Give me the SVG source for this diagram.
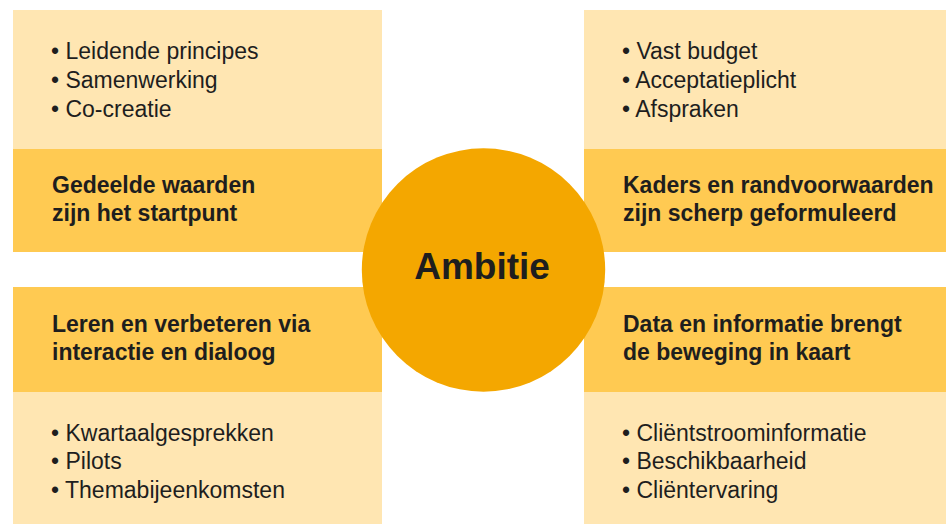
<svg xmlns="http://www.w3.org/2000/svg" width="946" height="524" viewBox="0 0 946 524">
  <style>
    .light { fill: #FFE6B2; }
    .dark { fill: #FFCA52; }
    .hub { fill: #F4A700; }
    text { font-family: "Liberation Sans", Arial, sans-serif; fill: #1e1e1e; }
    .item { font-size: 23px; }
    .title { font-size: 23px; font-weight: bold; }
    .hub-label { font-size: 37px; font-weight: bold; }
  </style>
  <rect width="946" height="524" fill="#ffffff"/>

  <!-- top left quadrant -->
  <g id="waarden">
    <rect class="light" x="13" y="10" width="369" height="139"/>
    <rect class="dark" x="13" y="149" width="369" height="103"/>
    <text class="item" x="51" y="59">• Leidende principes</text>
    <text class="item" x="51" y="88">• Samenwerking</text>
    <text class="item" x="51" y="117">• Co-creatie</text>
    <text class="title" x="52" y="193">Gedeelde waarden</text>
    <text class="title" x="52" y="221">zijn het startpunt</text>
  </g>

  <!-- top right quadrant -->
  <g id="kaders">
    <rect class="light" x="584" y="10" width="362" height="139"/>
    <rect class="dark" x="584" y="149" width="362" height="103"/>
    <text class="item" x="622" y="59">• Vast budget</text>
    <text class="item" x="622" y="88">• Acceptatieplicht</text>
    <text class="item" x="622" y="117">• Afspraken</text>
    <text class="title" x="623" y="193">Kaders en randvoorwaarden</text>
    <text class="title" x="623" y="221">zijn scherp geformuleerd</text>
  </g>

  <!-- bottom left quadrant -->
  <g id="leren">
    <rect class="dark" x="13" y="287" width="369" height="105"/>
    <rect class="light" x="13" y="392" width="369" height="132"/>
    <text class="title" x="52" y="332">Leren en verbeteren via</text>
    <text class="title" x="52" y="360">interactie en dialoog</text>
    <text class="item" x="51" y="441">• Kwartaalgesprekken</text>
    <text class="item" x="51" y="469">• Pilots</text>
    <text class="item" x="51" y="498">• Themabijeenkomsten</text>
  </g>

  <!-- bottom right quadrant -->
  <g id="data">
    <rect class="dark" x="584" y="287" width="362" height="105"/>
    <rect class="light" x="584" y="392" width="362" height="132"/>
    <text class="title" x="623" y="332">Data en informatie brengt</text>
    <text class="title" x="623" y="360">de beweging in kaart</text>
    <text class="item" x="622" y="441">• Cliëntstroominformatie</text>
    <text class="item" x="622" y="469">• Beschikbaarheid</text>
    <text class="item" x="622" y="498">• Cliëntervaring</text>
  </g>

  <!-- central circle -->
  <g id="ambitie">
    <circle class="hub" cx="483.5" cy="270" r="121.7"/>
    <text class="hub-label" x="482" y="279" text-anchor="middle">Ambitie</text>
  </g>

  <g id="connectors"/>
</svg>
